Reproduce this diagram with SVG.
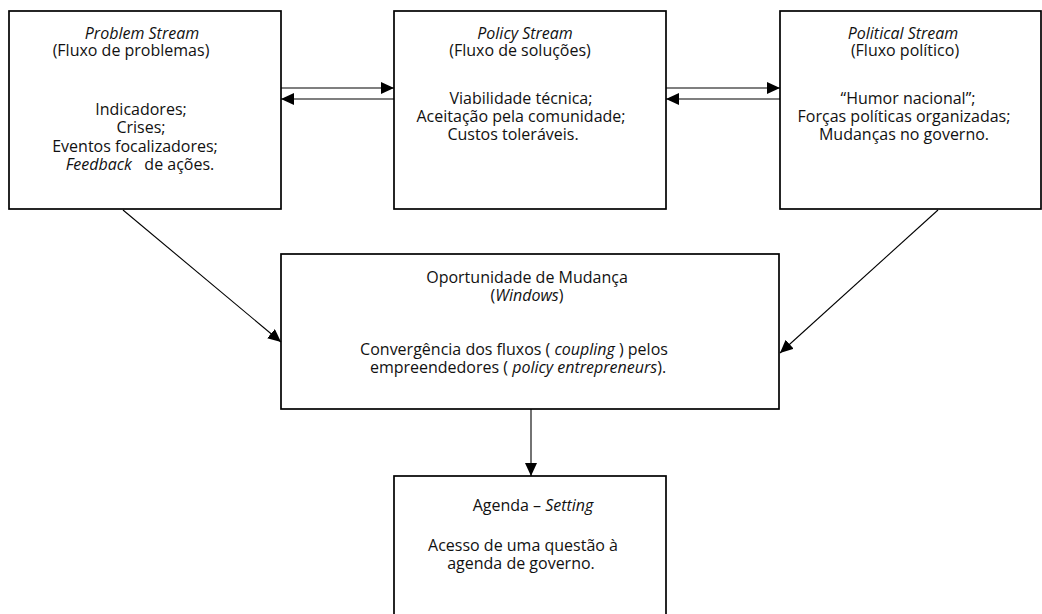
<svg xmlns="http://www.w3.org/2000/svg" width="1042" height="614" viewBox="0 0 1042 614">
<defs>
<marker id="ah" markerUnits="userSpaceOnUse" markerWidth="14" markerHeight="12" refX="13" refY="6" orient="auto">
<path d="M0,0 L13,6 L0,12 z" fill="#000"/>
</marker>
<style>
.box{fill:#fff;stroke:#000;stroke-width:1.7}
.con{stroke:#000;stroke-width:1.1;fill:none;marker-end:url(#ah)}
text{font-family:"Open Sans","Noto Sans","Liberation Sans",sans-serif;font-size:16px;fill:#111;text-anchor:middle}
.i{font-style:italic}
</style>
</defs>
<rect width="1042" height="614" fill="#fff"/>
<g id="problem">
<rect class="box" x="9" y="11" width="272" height="198"/>
<text x="142" y="39" class="i">Problem Stream</text>
<text x="131" y="56">(Fluxo de problemas)</text>
<text x="141" y="115">Indicadores;</text>
<text x="141" y="133">Crises;</text>
<text x="135" y="152">Eventos focalizadores;</text>
<text x="140" y="170"><tspan class="i">Feedback</tspan>&#160;&#160;&#160;de ações.</text>
</g>
<g id="policy">
<rect class="box" x="394" y="11" width="272" height="198"/>
<text x="525" y="39" class="i">Policy Stream</text>
<text x="520" y="56">(Fluxo de soluções)</text>
<text x="521" y="104">Viabilidade técnica;</text>
<text x="521" y="122">Aceitação pela comunidade;</text>
<text x="513" y="140">Custos toleráveis.</text>
</g>
<g id="political">
<rect class="box" x="780" y="11" width="261" height="198"/>
<text x="903" y="39" class="i">Political Stream</text>
<text x="905" y="56">(Fluxo político)</text>
<text x="908" y="104">“Humor nacional”;</text>
<text x="904" y="122">Forças políticas organizadas;</text>
<text x="904" y="140">Mudanças no governo.</text>
</g>
<g id="windows">
<rect class="box" x="281" y="254" width="498" height="155"/>
<text x="527" y="283">Oportunidade de Mudança</text>
<text x="527" y="301">(<tspan class="i">Windows</tspan>)</text>
<text x="514" y="355">Convergência dos fluxos ( <tspan class="i">coupling</tspan> ) pelos</text>
<text x="518" y="373">empreendedores ( <tspan class="i">policy entrepreneurs</tspan>).</text>
</g>
<g id="agenda">
<rect class="box" x="394" y="476" width="272" height="150"/>
<text x="533" y="511">Agenda – <tspan class="i">Setting</tspan></text>
<text x="523" y="551">Acesso de uma questão à</text>
<text x="521" y="569">agenda de governo.</text>
</g>
<g id="connectors">
<line class="con" x1="281" y1="88" x2="394" y2="88"/>
<line class="con" x1="394" y1="99" x2="281" y2="99"/>
<line class="con" x1="666" y1="88" x2="780" y2="88"/>
<line class="con" x1="780" y1="99" x2="666" y2="99"/>
<line class="con" x1="123" y1="210" x2="281" y2="342"/>
<line class="con" x1="938" y1="210" x2="780" y2="353"/>
<line class="con" x1="531" y1="409" x2="531" y2="476"/>
</g>
</svg>
